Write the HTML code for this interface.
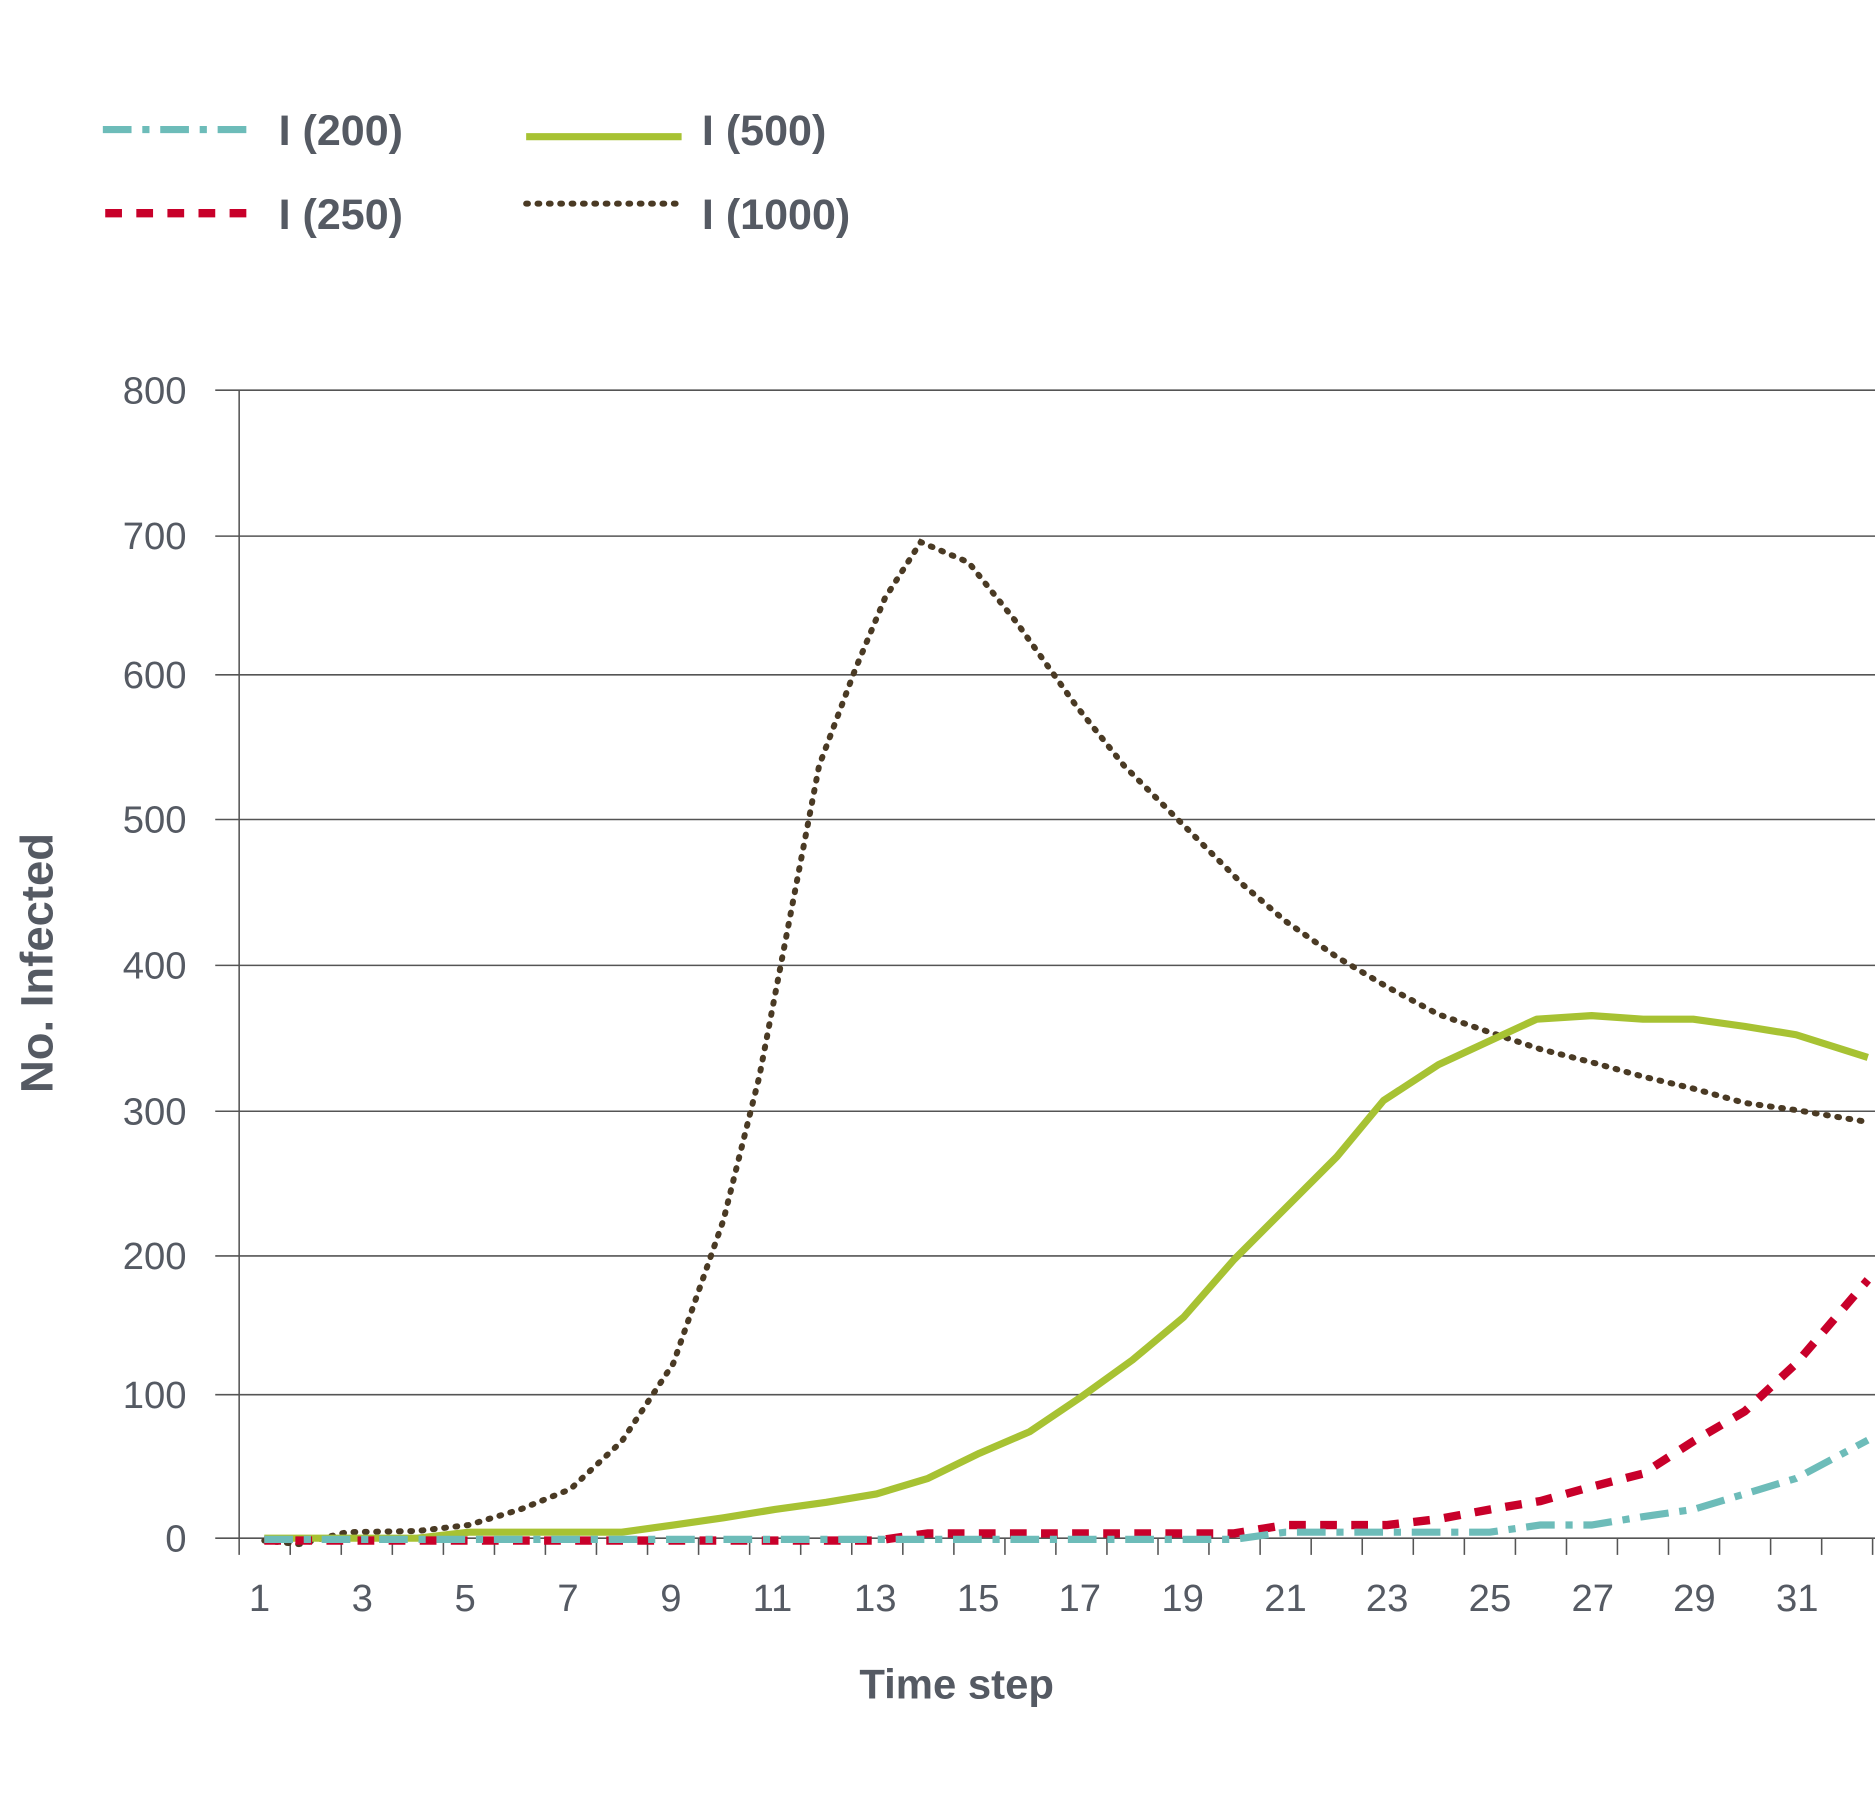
<!DOCTYPE html>
<html><head><meta charset="utf-8"><style>
html,body{margin:0;padding:0;background:#fff;}
svg{display:block;}
text{font-family:"Liberation Sans",sans-serif;fill:#555a63;}
</style></head><body>
<svg width="1875" height="1810" viewBox="0 0 1568 1513" xmlns="http://www.w3.org/2000/svg">
<rect width="1568" height="1513" fill="#fff"/>
<!-- legend -->
<line x1="86" y1="108" x2="206" y2="108" stroke="#6dbcb9" stroke-width="6" stroke-dasharray="24,9,6,9"/>
<text x="233" y="121" font-size="36" font-weight="bold">I (200)</text>
<line x1="88" y1="178" x2="206" y2="178" stroke="#c8002a" stroke-width="7" stroke-dasharray="14,12"/>
<text x="233" y="191" font-size="36" font-weight="bold">I (250)</text>
<line x1="440" y1="114" x2="570" y2="114" stroke="#a7c233" stroke-width="6"/>
<text x="587" y="121" font-size="36" font-weight="bold">I (500)</text>
<line x1="440" y1="170" x2="572" y2="170" stroke="#4a3a24" stroke-width="5" stroke-dasharray="1.5,8" stroke-linecap="round"/>
<text x="587" y="191" font-size="36" font-weight="bold">I (1000)</text>
<!-- grid -->
<g stroke="#555" stroke-width="1.3">
<line x1="180" y1="326" x2="1568" y2="326"/>
<line x1="180" y1="448" x2="1568" y2="448"/>
<line x1="180" y1="564" x2="1568" y2="564"/>
<line x1="180" y1="685" x2="1568" y2="685"/>
<line x1="180" y1="807" x2="1568" y2="807"/>
<line x1="180" y1="929" x2="1568" y2="929"/>
<line x1="180" y1="1050" x2="1568" y2="1050"/>
<line x1="180" y1="1166" x2="1568" y2="1166"/>
<line x1="180" y1="1286" x2="1568" y2="1286"/>
<line x1="200" y1="326" x2="200" y2="1300"/>
</g>
<g stroke="#555" stroke-width="1.3">
<line x1="242.7" y1="1286" x2="242.7" y2="1300"/><line x1="285.4" y1="1286" x2="285.4" y2="1300"/><line x1="328.1" y1="1286" x2="328.1" y2="1300"/><line x1="370.8" y1="1286" x2="370.8" y2="1300"/>
<line x1="413.5" y1="1286" x2="413.5" y2="1300"/><line x1="456.1" y1="1286" x2="456.1" y2="1300"/><line x1="498.8" y1="1286" x2="498.8" y2="1300"/><line x1="541.5" y1="1286" x2="541.5" y2="1300"/>
<line x1="584.2" y1="1286" x2="584.2" y2="1300"/><line x1="626.9" y1="1286" x2="626.9" y2="1300"/><line x1="669.6" y1="1286" x2="669.6" y2="1300"/><line x1="712.3" y1="1286" x2="712.3" y2="1300"/>
<line x1="755" y1="1286" x2="755" y2="1300"/><line x1="797.7" y1="1286" x2="797.7" y2="1300"/><line x1="840.4" y1="1286" x2="840.4" y2="1300"/><line x1="883" y1="1286" x2="883" y2="1300"/>
<line x1="925.7" y1="1286" x2="925.7" y2="1300"/><line x1="968.4" y1="1286" x2="968.4" y2="1300"/><line x1="1011" y1="1286" x2="1011" y2="1300"/><line x1="1053.8" y1="1286" x2="1053.8" y2="1300"/>
<line x1="1096.5" y1="1286" x2="1096.5" y2="1300"/><line x1="1139.2" y1="1286" x2="1139.2" y2="1300"/><line x1="1181.9" y1="1286" x2="1181.9" y2="1300"/><line x1="1224.6" y1="1286" x2="1224.6" y2="1300"/>
<line x1="1267.3" y1="1286" x2="1267.3" y2="1300"/><line x1="1310" y1="1286" x2="1310" y2="1300"/><line x1="1352.6" y1="1286" x2="1352.6" y2="1300"/><line x1="1395.3" y1="1286" x2="1395.3" y2="1300"/>
<line x1="1438" y1="1286" x2="1438" y2="1300"/><line x1="1480.7" y1="1286" x2="1480.7" y2="1300"/><line x1="1523.4" y1="1286" x2="1523.4" y2="1300"/><line x1="1566" y1="1286" x2="1566" y2="1300"/>
</g>
<g font-size="32" text-anchor="end">
<text x="156" y="337">800</text>
<text x="156" y="459">700</text>
<text x="156" y="575">600</text>
<text x="156" y="696">500</text>
<text x="156" y="818">400</text>
<text x="156" y="940">300</text>
<text x="156" y="1061">200</text>
<text x="156" y="1177">100</text>
<text x="156" y="1297">0</text>
</g>
<g font-size="32" text-anchor="middle">
<text x="217" y="1347">1</text><text x="303" y="1347">3</text><text x="389" y="1347">5</text><text x="475" y="1347">7</text>
<text x="561" y="1347">9</text><text x="646" y="1347">11</text><text x="732" y="1347">13</text><text x="818" y="1347">15</text>
<text x="903" y="1347">17</text><text x="989" y="1347">19</text><text x="1075" y="1347">21</text><text x="1160" y="1347">23</text>
<text x="1246" y="1347">25</text><text x="1332" y="1347">27</text><text x="1417" y="1347">29</text><text x="1503" y="1347">31</text>
</g>
<text x="800" y="1420" font-size="35" font-weight="bold" text-anchor="middle">Time step</text>
<text transform="translate(44,805) rotate(-90)" font-size="38" font-weight="bold" text-anchor="middle">No. Infected</text>
<!-- series -->
<polyline fill="none" stroke="#4a3a24" stroke-width="5" stroke-dasharray="1.5,8" stroke-linecap="round" points="221,1288 250,1291 290,1281 349,1280 392,1275 435,1262 477,1245 520,1205 563,1140 605,1020 635,900 660,770 685,640 715,560 740,500 770,453 810,470 850,520 900,590 940,640 990,690 1040,740 1075,770 1118,800 1160,825 1203,848 1246,863 1288,877 1331,888 1374,900 1416,910 1459,922 1502,928 1562,938"/>
<polyline fill="none" stroke="#a7c233" stroke-width="6" stroke-linejoin="round" points="221,1286 349,1286 392,1281 520,1281 563,1275 605,1269 648,1262 691,1256 733,1249 776,1236 819,1215 861,1197 904,1168 947,1137 990,1101 1032,1053 1075,1010 1118,967 1157,920 1203,890 1246,870 1285,852 1331,849 1374,852 1416,852 1459,858 1502,865 1562,884"/>
<polyline fill="none" stroke="#c8002a" stroke-width="7" stroke-dasharray="14,12" points="221,1288 733,1288 776,1282 1032,1282 1075,1275 1160,1275 1203,1270 1246,1262 1288,1255 1331,1243 1374,1232 1416,1205 1459,1180 1502,1140 1562,1070"/>
<polyline fill="none" stroke="#6dbcb9" stroke-width="6" stroke-dasharray="24,9,6,9" points="221,1287 1032,1287 1075,1281 1246,1281 1288,1275 1331,1275 1374,1268 1416,1262 1459,1249 1502,1236 1562,1204"/>
</svg>
</body></html>
